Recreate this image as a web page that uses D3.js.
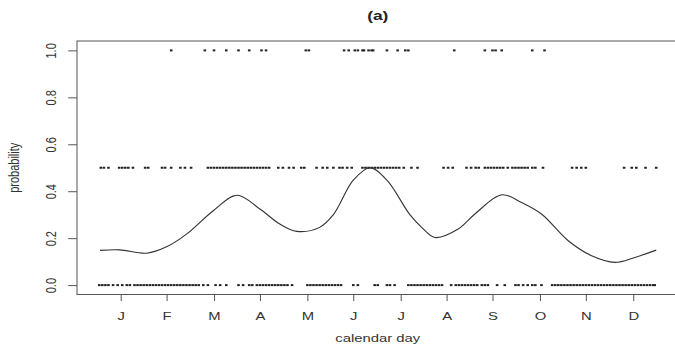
<!DOCTYPE html>
<html>
<head>
<meta charset="utf-8">
<script src="https://cdn.jsdelivr.net/npm/d3@7"></script>
<style>
  html, body { margin: 0; padding: 0; background: #fff; }
  svg { display: block; font-family: "Liberation Sans", Arial, Helvetica, sans-serif; }
</style>
</head>
<body>
<div id="chart"></div>
<script>
// ---- data ----
const monthLabels = ["J","F","M","A","M","J","J","A","S","O","N","D"];
const monthTickDays = [15,45,76,106,137,167,198,228,258,289,319,350];
const yTickValues = [0, 0.2, 0.4, 0.6, 0.8, 1.0];

// observed outcomes (calendar day) at probability 1.0, 0.5 and 0.0
const daysAt1 = [48,70,76,84,92,99,107,110,136,138,161,164,168,170,173,174,177,179,180,
  189,196,201,203,233,253,258,260,264,284,292];
const daysAtHalf = [2,4,7,14,16,18,20,23,31,33,42,44,48,54,57,61,
  72,74,76,78,80,82,84,86,88,90,92,94,96,98,100,102,104,106,108,110,112,
  118,121,125,128,133,135,143,147,150,154,158,160,163,166,
  173,175,177,179,181,183,185,187,189,191,193,195,197,200,205,209,
  226,229,232,241,244,247,249,253,255,257,259,261,263,265,268,
  271,273,275,277,279,281,284,286,291,310,313,316,319,344,349,352,358,365];
const daysAt0 = [1,3,5,7,10,13,16,19,21,24,26,28,30,32,34,36,38,40,42,44,46,48,50,52,54,56,58,60,62,64,66,
  69,72,77,80,84,92,95,99,101,104,106,108,110,112,114,116,118,120,122,124,127,
  137,139,141,143,145,147,149,151,153,155,157,159,167,170,181,183,189,191,194,
  203,205,207,209,211,213,215,217,219,221,223,225,
  231,234,236,238,240,242,244,246,248,251,253,255,261,266,273,275,278,281,284,286,290,
  297,299,301,303,305,307,309,311,313,315,317,319,321,323,325,
  327,329,331,333,335,337,339,341,343,345,347,349,351,353,355,357,359,361,363,364];

// smoothed probability curve
const curveDays = [1.5,14.5,32,45,58,75.5,91,106,119,130,145,154,167,178,189,204,211.7,220.4,235.6,246.5,264,277,290,307.5,322.8,338,351,365];
const curveProb = [0.148,0.150,0.136,0.163,0.217,0.317,0.383,0.324,0.26,0.229,0.246,0.30,0.447,0.50,0.447,0.30,0.246,0.203,0.239,0.303,0.385,0.352,0.303,0.189,0.125,0.097,0.118,0.149];

// ---- layout ----
const W = 675, H = 348;
const mLeft = 77, mTop = 41, mBottom = 294.5, mRight = 678.5;
const SX = 1.35; // horizontal stretch of the original figure's text

const pad = 0.04 * (365 - 1);
const x = d3.scaleLinear().domain([1 - pad, 365 + pad]).range([mLeft, mRight]);
const y = d3.scaleLinear().domain([-0.04, 1.04]).range([mBottom, mTop]);

const svg = d3.select("#chart").append("svg")
  .attr("width", W).attr("height", H);
svg.append("rect").attr("width", W).attr("height", H).attr("fill", "#fff");

// box
svg.append("rect")
  .attr("x", mLeft).attr("y", mTop)
  .attr("width", mRight - mLeft).attr("height", mBottom - mTop)
  .attr("fill", "none").attr("stroke", "#555").attr("stroke-width", 1);

// x axis
const gx = svg.append("g").attr("transform", `translate(0,${mBottom})`)
  .call(d3.axisBottom(x).tickValues(monthTickDays)
    .tickFormat((d, i) => monthLabels[i]).tickSize(6.5).tickSizeOuter(0));
gx.select(".domain").remove();
gx.selectAll(".tick line").attr("stroke", "#555");
gx.selectAll(".tick text")
  .attr("y", null).attr("dy", null)
  .attr("transform", `translate(0,25) scale(${SX},1)`)
  .attr("font-size", 11).attr("fill", "#333")
  .attr("font-family", "'Liberation Sans', Arial, sans-serif");

// y axis
const gy = svg.append("g").attr("transform", `translate(${mLeft},0)`)
  .call(d3.axisLeft(y).tickValues(yTickValues)
    .tickFormat(d3.format(".1f")).tickSize(8.8).tickSizeOuter(0));
gy.select(".domain").remove();
gy.selectAll(".tick line").attr("stroke", "#555");
gy.selectAll(".tick text")
  .attr("x", null).attr("dy", null)
  .attr("text-anchor", "middle")
  .attr("transform", `translate(-21,0) scale(${SX},1) rotate(-90)`)
  .attr("font-size", 11).attr("fill", "#333")
  .attr("font-family", "'Liberation Sans', Arial, sans-serif");

// points
const pts = [].concat(
  daysAt1.map(d => [d, 1]),
  daysAtHalf.map(d => [d, 0.5]),
  daysAt0.map(d => [d, 0])
);
svg.append("g").selectAll("rect").data(pts).join("rect")
  .attr("x", d => x(d[0]) - 1.3).attr("y", d => y(d[1]) - 1)
  .attr("width", 2.6).attr("height", 2)
  .attr("fill", "#222");

// curve
const line = d3.line()
  .x((d, i) => x(curveDays[i]))
  .y((d, i) => y(curveProb[i]))
  .curve(d3.curveCatmullRom.alpha(0.5));
svg.append("path").datum(curveDays)
  .attr("d", line)
  .attr("fill", "none").attr("stroke", "#333").attr("stroke-width", 1.1);

// title and axis labels
svg.append("text")
  .attr("transform", `translate(${(mLeft + mRight) / 2},20) scale(1.45,1)`)
  .attr("text-anchor", "middle").attr("font-weight", "bold")
  .attr("font-size", 12).attr("fill", "#222").text("(a)");

svg.append("text")
  .attr("transform", `translate(${(mLeft + mRight) / 2},341.5) scale(${SX},1)`)
  .attr("text-anchor", "middle").attr("font-size", 11).attr("fill", "#333")
  .text("calendar day");

svg.append("text")
  .attr("transform", `translate(18.5,${(mTop + mBottom) / 2}) scale(${SX},1) rotate(-90)`)
  .attr("text-anchor", "middle").attr("font-size", 11).attr("fill", "#333")
  .text("probability");
</script>
</body>
</html>
